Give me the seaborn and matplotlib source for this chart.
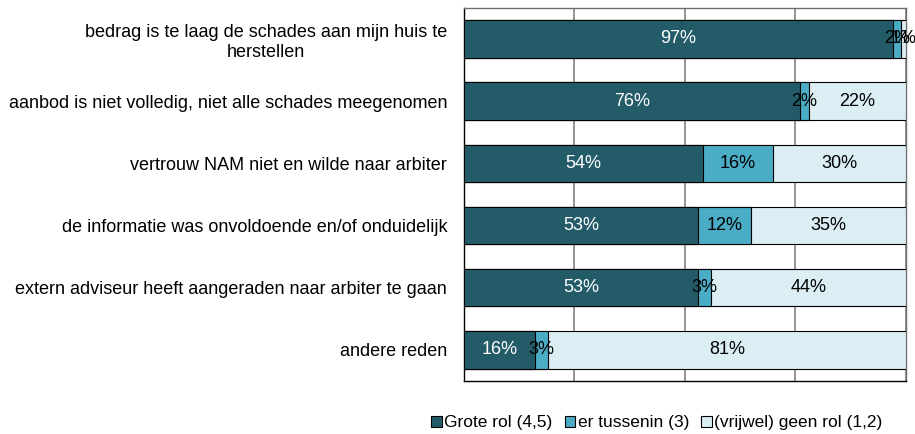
import pandas as pd
import numpy as np
import matplotlib.pyplot as plt
import seaborn as sns

# redenen en percentages
redenen = [
    'bedrag is te laag de schades aan mijn huis te\nherstellen',
    'aanbod is niet volledig, niet alle schades meegenomen',
    'vertrouw NAM niet en wilde naar arbiter',
    'de informatie was onvoldoende en/of onduidelijk',
    'extern adviseur heeft aangeraden naar arbiter te gaan',
    'andere reden',
]
grote_rol = [97, 76, 54, 53, 53, 16]
tussenin = [2, 2, 16, 12, 3, 3]
geen_rol = [1, 22, 30, 35, 44, 81]

series_names = ['Grote rol (4,5)', 'er tussenin (3)', '(vrijwel) geen rol (1,2)']
kleuren = ['#235b69', '#4bacc6', '#dbeef4']
tekstkleur = ['white', 'black', 'black']

df = pd.DataFrame({'reden': redenen, 'grote': grote_rol, 'tussen': tussenin, 'geen': geen_rol})
df['cum1'] = df['grote']
df['cum2'] = df['grote'] + df['tussen']
df['cum3'] = df['cum2'] + df['geen']

sns.set_style('white')
plt.rcParams['font.family'] = ['Liberation Sans', 'DejaVu Sans']
plt.rcParams['text.color'] = 'black'
plt.rcParams['ytick.color'] = 'black'
plt.rcParams['ytick.labelcolor'] = 'black'

fig, ax = plt.subplots(figsize=(9.15, 4.34), dpi=100)
fig.subplots_adjust(left=0.507, right=0.990, top=0.982, bottom=0.122)

# gestapelde balken: van achter naar voren tekenen
for col, kleur, naam in zip(['cum3', 'cum2', 'cum1'], kleuren[::-1], series_names[::-1]):
    sns.barplot(data=df, x=col, y='reden', orient='h', color=kleur, saturation=1,
                width=0.6, edgecolor='black', linewidth=0.8, ax=ax, label=naam, zorder=3)

# labels in de balken
for i, row in df.iterrows():
    starts = [0, row['grote'], row['cum2']]
    vals = [row['grote'], row['tussen'], row['geen']]
    for s, v, tc in zip(starts, vals, tekstkleur):
        ax.text(s + v / 2, i, f'{v}%', ha='center', va='center', color=tc,
                fontsize=13, zorder=5)

ax.set_xlim(0, 100)
ax.set_ylim(len(redenen) - 0.5, -0.5)
ax.set_xticks([0, 25, 50, 75, 100])
ax.set_xticklabels([])
ax.tick_params(axis='x', length=0)
ax.grid(axis='x', color='#8c8c8c', linewidth=1.3, zorder=0)
ax.set_axisbelow(True)
ax.set_xlabel('')
ax.set_ylabel('')

# ticks tussen de categorieën
ax.set_yticks(range(len(redenen)))
ax.set_yticklabels(redenen, fontsize=13, multialignment='center', color='black')
ax.tick_params(axis='y', which='major', length=0, pad=12)
ax.set_yticks(np.arange(-0.5, len(redenen), 1), minor=True)
ax.tick_params(axis='y', which='minor', length=5, width=1, direction='out', color='black')

for side in ['left', 'bottom']:
    ax.spines[side].set_color('black')
    ax.spines[side].set_linewidth(1)
for side in ['top', 'right']:
    ax.spines[side].set_color('#6e6e6e')
    ax.spines[side].set_linewidth(1)

# legenda in dezelfde volgorde als de reeksen
handles, labels = ax.get_legend_handles_labels()
order = [labels.index(n) for n in series_names]
ax.legend([handles[k] for k in order], series_names, loc='center',
          bbox_to_anchor=(0.718, 0.026), bbox_transform=fig.transFigure,
          ncol=3, frameon=False, fontsize=12.5, handlelength=0.6, handleheight=0.6,
          handletextpad=0.15, columnspacing=0.7, labelcolor='black')

plt.savefig('out.png', dpi=100)
